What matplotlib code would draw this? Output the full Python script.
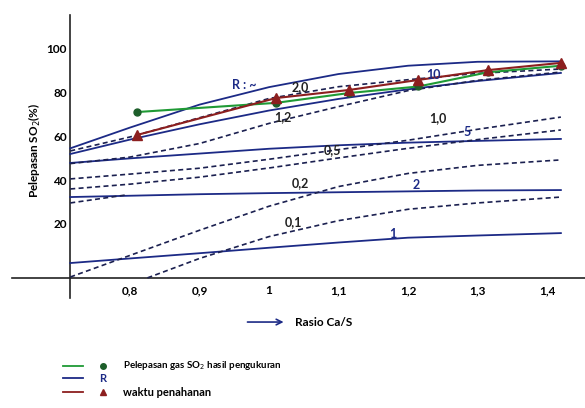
import matplotlib
matplotlib.use("Agg")
import matplotlib.pyplot as plt

plt.rcParams["font.family"] = ["Lato", "DejaVu Sans"]

# common x grid of the curves (rasio Ca/S)
x_grid = [0.714, 0.8, 0.9, 1.0, 1.1, 1.2, 1.3, 1.42]

# solid curves (R)
r_inf = [55, 64.5, 75, 83, 89, 92.8, 94.6, 94.8]
r_10 = [52.4, 59, 66, 72.3, 77.6, 82, 85.8, 89.5]
r_5 = [48.3, 50.4, 52.6, 54.8, 56.4, 57.6, 58.4, 59.3]
r_2 = [32.7, 33.3, 34.0, 34.5, 34.9, 35.3, 35.7, 35.9]
r_1 = [2.5, 4.6, 7.0, 9.5, 11.9, 14.1, 15.1, 16.2]

# dashed curves (waktu penahanan)
t_20 = [53.8, 60.2, 69, 77.8, 83.2, 86.4, 89.3, 91.3]
t_12 = [48, 51, 57.2, 66.4, 74.1, 81.4, 86.1, 89.9]
t_10 = [41.0, 43.2, 45.9, 50.0, 54.4, 58.7, 63.7, 69.3]
t_05 = [36.4, 38.6, 41.8, 46.0, 50.6, 55.0, 59.0, 63.4]
t_02 = [-3.9, 6.0, 17.5, 28.5, 37.5, 43.5, 47.2, 49.7]
x_01 = [0.825, 0.9, 1.0, 1.1, 1.2, 1.3, 1.42]
t_01 = [-4.3, 4.6, 14.6, 21.9, 27.1, 30.0, 32.7]
x_short = [0.714, 0.793]
t_short = [30.0, 33.6]

# measured points
x_meas = [0.81, 1.01, 1.115, 1.215, 1.315, 1.42]
y_meas = [71.6, 75.8, 80.3, 83.3, 89.8, 92.8]
y_wakt = [61.1, 78.0, 81.7, 86.3, 90.8, 94.1]

xticks = [0.8, 0.9, 1.0, 1.1, 1.2, 1.3, 1.4]
xtick_labels = ["0,8", "0,9", "1", "1,1", "1,2", "1,3", "1,4"]
yticks = [20, 40, 60, 80, 100]

NAVY = "#1c2a86"
DASH = "#1b2050"
GREEN = "#1f9a35"
RED = "#8c1f1f"

fig = plt.figure(figsize=(5.85, 4.08), dpi=100)
ax = fig.add_axes([0, 0, 1, 1])
ax.set_xlim(0.6129, 1.4547)
ax.set_ylim(-63.84, 122.88)
ax.axis("off")

x0 = 0.7137
y0 = -4.35
ax.plot([0.63, 1.4547], [y0, y0], color="#222222", lw=1.2)
ax.plot([x0, x0], [-13.5, 116], color="#222222", lw=1.2)

for ys in [r_inf, r_10, r_5, r_2, r_1]:
    ax.plot(x_grid, ys, color=NAVY, lw=1.3)
for ys in [t_20, t_12, t_10, t_05, t_02]:
    ax.plot(x_grid, ys, color=DASH, lw=1.2, ls=(0, (3, 2)))
ax.plot(x_01, t_01, color=DASH, lw=1.2, ls=(0, (3, 2)))
ax.plot(x_short, t_short, color=DASH, lw=1.2, ls=(0, (3, 2)))

ax.plot(x_meas, y_meas, color=GREEN, lw=1.5, marker="o", ms=5,
        mfc="#1d5e2a", mec="#1d5e2a")
ax.plot(x_meas, y_wakt, color=RED, lw=1.5, marker="^", ms=7,
        mfc=RED, mec=RED)

# curve labels
blk = dict(fontsize=9, fontweight="bold", color="#222222", ha="center", va="center")
blu = dict(fontsize=9, fontweight="bold", color=NAVY, ha="center", va="center")
ax.text(0.965, 84.0, "R : ~", **blu)
ax.text(1.045, 83.1, "2,0", **blk)
ax.text(1.020, 69.3, "1,2", **blk)
ax.text(1.236, 88.6, "10", **blu)
ax.text(1.243, 68.9, "1,0", **blk)
ax.text(1.285, 62.5, "5", **blu)
ax.text(1.091, 54.2, "0,5", **blk)
ax.text(1.045, 39.1, "0,2", **blk)
ax.text(1.212, 38.2, "2", **blu)
ax.text(1.035, 21.3, "0,1", **blk)
ax.text(1.178, 15.8, "1", **blu)

# tick labels
for xv, lab in zip(xticks, xtick_labels):
    ax.text(xv, -10.0, lab, fontsize=8.5, fontweight="bold", ha="center", va="center")
for yv in yticks:
    ax.text(0.709, yv, str(yv), fontsize=8.5, fontweight="bold", ha="right", va="center")

ax.text(0.663, 54.2, "Pelepasan SO$_2$(%)", fontsize=8.5, fontweight="bold",
        rotation=90, ha="center", va="center")

ax.annotate("", xy=(1.025, -24.5), xytext=(0.965, -24.5),
            arrowprops=dict(arrowstyle="->", color=NAVY, lw=1.2))
ax.text(1.037, -24.5, "Rasio Ca/S", fontsize=8.5, fontweight="bold",
        ha="left", va="center")

# legend
leg_y = [-44.4, -50.3, -56.7]
ax.plot([0.7036, 0.7324], [leg_y[0]] * 2, color=GREEN, lw=1.3)
ax.plot([0.761], [leg_y[0]], marker="o", ms=4, color="#1d5e2a", ls="none")
ax.text(0.79, leg_y[0], "Pelepasan gas SO$_2$ hasil pengukuran", fontsize=7,
        fontweight="bold", va="center")
ax.plot([0.7036, 0.7324], [leg_y[1]] * 2, color=NAVY, lw=1.3)
ax.text(0.761, leg_y[1], "R", fontsize=8, fontweight="bold", color=NAVY,
        ha="center", va="center")
ax.plot([0.7036, 0.7324], [leg_y[2]] * 2, color=RED, lw=1.3)
ax.plot([0.761], [leg_y[2]], marker="^", ms=5, color=RED, ls="none")
ax.text(0.79, leg_y[2], "waktu penahanan", fontsize=8, fontweight="bold", va="center")

fig.savefig("out.png", dpi=100)
